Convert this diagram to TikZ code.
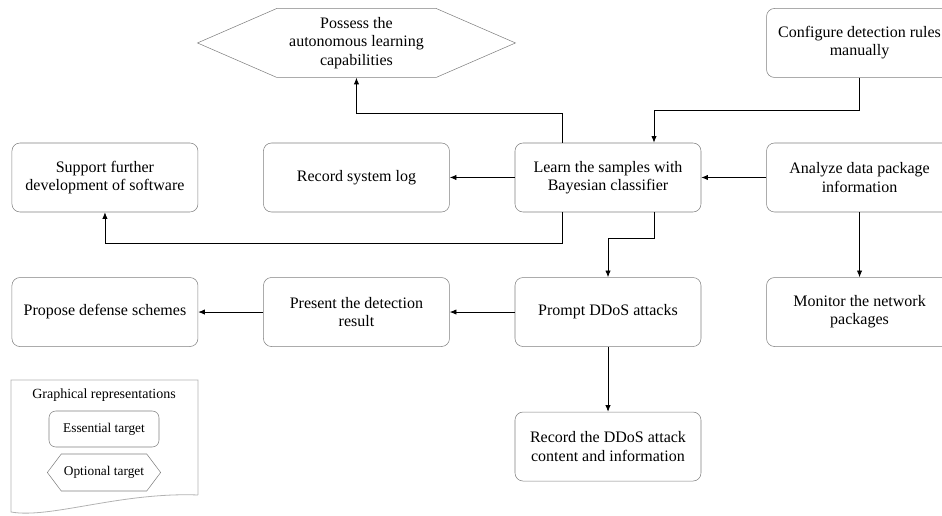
\documentclass[tikz,border=0pt]{standalone}
\usepackage{fontspec}
\setmainfont{Liberation Serif}
\usetikzlibrary{shapes.symbols, arrows.meta, positioning}

\begin{document}
\begin{tikzpicture}[
    x=0.75pt, y=0.75pt,
    node distance=48.75pt and 48.75pt,
    target/.style={rectangle, draw=black!50, rounded corners=6pt, minimum width=139.5pt, minimum height=51.75pt, align=center, font=\fontsize{12}{13.7}\selectfont, inner sep=2pt},
    optional/.style={signal, signal to=west and east, signal pointer angle=47, draw=black!50, minimum width=238.5pt, minimum height=51.75pt, align=center, font=\fontsize{12}{13.7}\selectfont, inner sep=2pt},
    keytarget/.style={target, minimum width=82.5pt, minimum height=27pt, rounded corners=5pt, font=\fontsize{10}{12}\selectfont},
    keyoptional/.style={optional, signal pointer angle=106, minimum width=82.5pt, minimum height=27.75pt, font=\fontsize{10}{12}\selectfont},
    arr/.style={-{Latex[length=5pt,width=4pt]}, line width=0.6pt}
]
\useasboundingbox (0,0) rectangle (942,516);
\node[target] (learn) at (608,338.5) {Learn the samples with\\Bayesian classifier};
\node[target, left=of learn] (log) {Record system log};
\node[target, left=of log] (support) {Support further\\development of software};
\node[target, right=of learn] (analyze) {Analyze data package\\information};
\node[target, above=of analyze] (config) {Configure detection rules\\manually};
\node[optional, above=of log] (possess) {Possess the\\autonomous learning\\capabilities};
\node[target, below=of learn] (prompt) {Prompt DDoS attacks};
\node[target, left=of prompt] (present) {Present the detection\\result};
\node[target, left=of present] (propose) {Propose defense schemes};
\node[target, below=of analyze] (monitor) {Monitor the network\\packages};
\node[target, below=of prompt] (ddos) {Record the DDoS attack\\content and information};
% legend
\draw[black!30, line width=0.6pt] (198,21) -- (198,136) -- (11,136) -- (11,4)
    .. controls (50,-3) and (120,24) .. (198,21);
\node[font=\fontsize{10.5}{12}\selectfont] (keytitle) at (104,121) {Graphical representations};
\node[keytarget] (keyess) at (104,87) {Essential target};
\node[keyoptional] (keyopt) at (104,43.5) {Optional target};
% connectors
\draw[arr] ([xshift=-34.5pt]learn.north) -- ++(0,29) -| (possess.south);
\draw[arr] (config.south) -- ++(0,-33) -| ([xshift=34.5pt]learn.north);
\draw[arr] (analyze) -- (learn);
\draw[arr] (learn) -- (log);
\draw[arr] ([xshift=-34.5pt]learn.south) -- ++(0,-31) -| (support.south);
\draw[arr] ([xshift=34.5pt]learn.south) -- ++(0,-26) -| (prompt.north);
\draw[arr] (analyze) -- (monitor);
\draw[arr] (prompt) -- (present);
\draw[arr] (present) -- (propose);
\draw[arr] (prompt) -- (ddos);
\end{tikzpicture}
\end{document}
